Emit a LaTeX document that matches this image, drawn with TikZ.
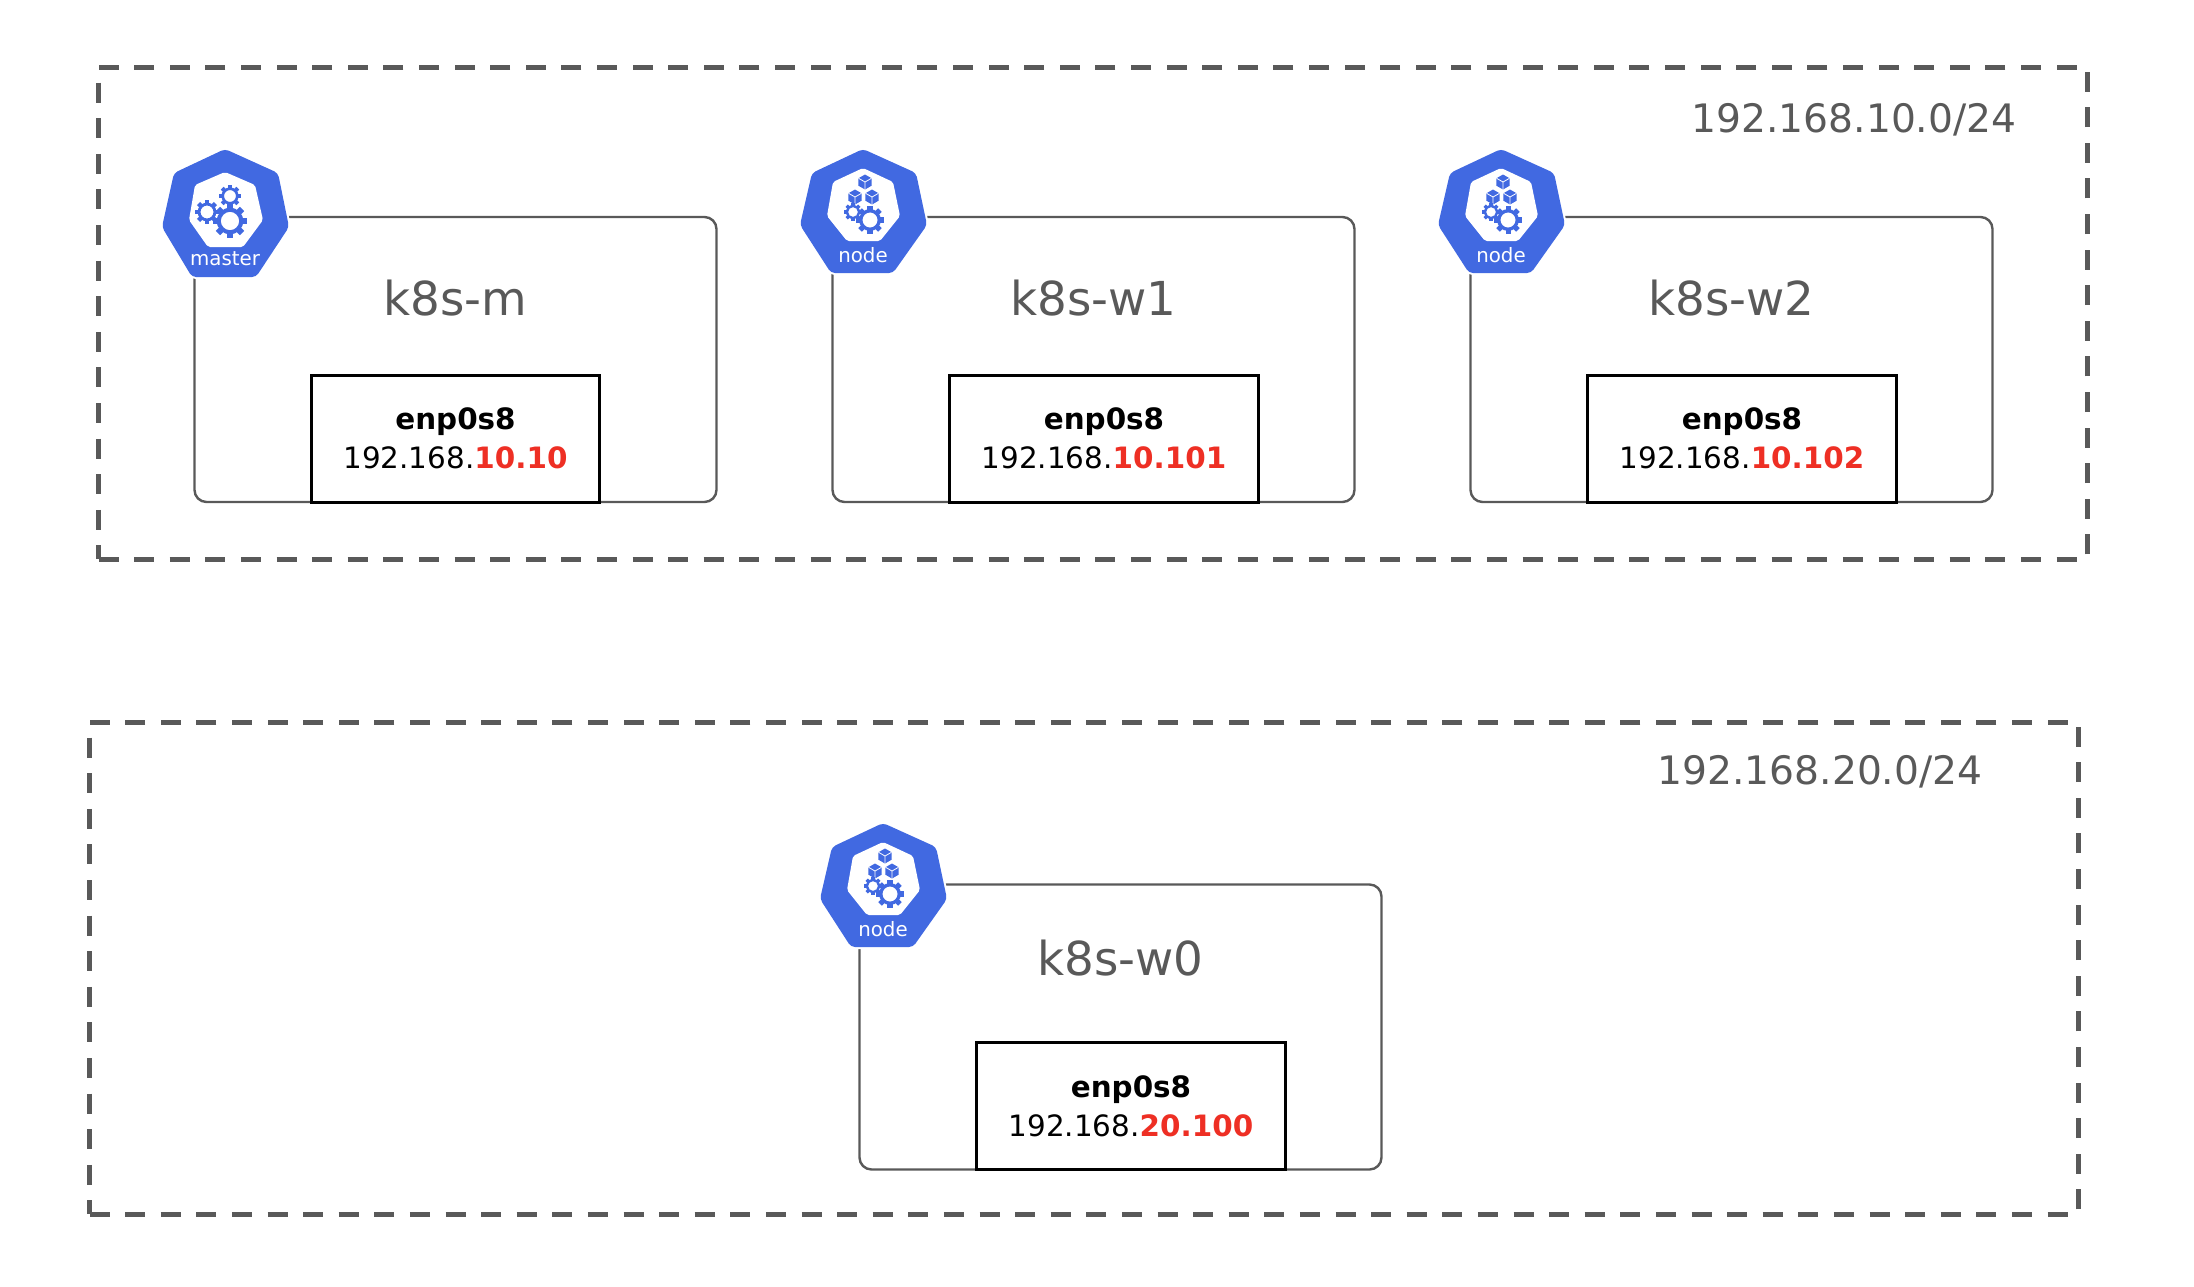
\documentclass[tikz,border=0pt]{standalone}
\usepackage{fontspec}
\setmainfont{DejaVu Sans}
\usepackage{xcolor}
\usepackage{tikz}
\usetikzlibrary{positioning,calc}
\definecolor{iconblue}{HTML}{4169E1}
\definecolor{linegray}{HTML}{595959}
\definecolor{ipred}{HTML}{EE2F24}
\newcommand{\ipline}[2]{192.168.{\color{ipred}\bfseries #1.#2}}

\begin{document}
\begin{tikzpicture}[
        x=0.5pt, y=-0.5pt,
        every node/.style={align=center, outer sep=0pt},
        subnet/.style ={draw=linegray, line width=2.5pt, dash pattern=on 10pt off 7.8pt, minimum width=994.5pt, minimum height=246pt, anchor=north west},
        host/.style   ={draw=linegray, line width=1.2pt, rounded corners=6pt, minimum width=261pt, minimum height=142.5pt},
        iface/.style  ={draw=black, line width=1.5pt, fill=white, font=\fontsize{14.7}{19.5}\selectfont, inner sep=0pt},
        ifacem/.style ={iface, minimum width=144pt, minimum height=63.5pt},
        ifacew/.style ={iface, minimum width=154.5pt, minimum height=63.5pt},
        hostname/.style={text=linegray, font=\fontsize{23.4}{27}\selectfont, inner sep=0pt},
        netname/.style ={text=linegray, font=\fontsize{19.6}{24}\selectfont, inner sep=0pt},
        kgear/.pic={
            \fill[iconblue, even odd rule] (0,0) circle[radius=.78] (0,0) circle[radius=.54];
            \foreach \a in {0,45,...,315}
                \fill[iconblue, rotate=\a] (-.18,.7) rectangle (.18,1);
        },
        kcube/.pic={
            \fill[iconblue] (0,-1) -- (.87,-.5) -- (.87,.5) -- (0,1) -- (-.87,.5) -- (-.87,-.5) -- cycle;
            \draw[white, line width=.4pt] (-.87,-.5) -- (0,0) -- (.87,-.5) (0,0) -- (0,1);
        },
        mastericon/.pic={
            \path[fill=iconblue, preaction={draw=white, line width=2pt}, rounded corners=2pt] (0,-1) -- (53,23) -- (64,77) -- (31,127) -- (-33,127) -- (-63,77) -- (-51,23) -- cycle;
            \fill[white, rounded corners=1pt] (0,22) -- (30,35) -- (38,70) -- (18,97) -- (-17,97) -- (-36,70) -- (-30,35) -- cycle;
            \pic[scale=17] at (5,71) {kgear};
            \pic[scale=12] at (-18,62) {kgear};
            \pic[scale=11] at (5,46) {kgear};
            \node[text=white, font=\fontsize{9.9}{12}\selectfont, inner sep=0pt] (-tag) at (0,109) {master};
        },
        nodeicon/.pic={
            \path[fill=iconblue, preaction={draw=white, line width=2pt}, rounded corners=2pt] (0,-1) -- (53,23) -- (64,75) -- (30,123) -- (-32,123) -- (-63,75) -- (-51,23) -- cycle;
            \fill[white, rounded corners=1pt] (0,18) -- (30,32) -- (37,66) -- (17,91) -- (-16,91) -- (-36,66) -- (-30,32) -- cycle;
            \pic[scale=7.5] at (2,32) {kcube};
            \pic[scale=7.5] at (-8,47) {kcube};
            \pic[scale=7.5] at (9,47) {kcube};
            \pic[scale=14] at (7,70) {kgear};
            \pic[scale=9] at (-10,62) {kgear};
            \node[text=white, font=\fontsize{9.9}{12}\selectfont, inner sep=0pt] (-tag) at (0,105) {node};
        },
    ]
    \useasboundingbox (0,0) rectangle (2194,1286);

    % --- upper network ---
    \node[subnet] (net1) at (98.5,67) {};
    \node[netname, below left=18pt and 35.5pt of net1.north east] (net1name) {192.168.10.0/24};

    \node[host, anchor=north west] (hm) at (194.5,217) {};
    \node[host, right=58pt of hm] (hw1) {};
    \node[host, right=58pt of hw1] (hw2) {};

    \node[hostname, below=31.5pt of hm.north] (hmname) {k8s-m};
    \node[hostname, below=31.5pt of hw1.north] (hw1name) {k8s-w1};
    \node[hostname, below=31.5pt of hw2.north] (hw2name) {k8s-w2};

    \node[ifacem, above right=0pt and 58.5pt of hm.south west] (ifm) {\textbf{enp0s8}\\\ipline{10}{10}};
    \node[ifacew, above right=0pt and 58.5pt of hw1.south west] (ifw1) {\textbf{enp0s8}\\\ipline{10}{101}};
    \node[ifacew, above right=0pt and 58.5pt of hw2.south west] (ifw2) {\textbf{enp0s8}\\\ipline{10}{102}};

    % --- lower network ---
    \node[subnet] (net2) at (89.5,722) {};
    \node[netname, below left=16.5pt and 48pt of net2.north east] (net2name) {192.168.20.0/24};

    \node[host, anchor=north west] (hw0) at (859.5,884.5) {};
    \node[hostname, below=27.5pt of hw0.north] (hw0name) {k8s-w0};
    \node[ifacew, above right=0pt and 58.5pt of hw0.south west] (ifw0) {\textbf{enp0s8}\\\ipline{20}{100}};

    % --- icons ---
    \pic (icm) at ($(hm.north west)+(30.5,-67)$) {mastericon};
    \pic (icw1) at ($(hw1.north west)+(30.5,-67)$) {nodeicon};
    \pic (icw2) at ($(hw2.north west)+(30.5,-67)$) {nodeicon};
    \pic (icw0) at ($(hw0.north west)+(23.5,-60.5)$) {nodeicon};
\end{tikzpicture}
\end{document}
